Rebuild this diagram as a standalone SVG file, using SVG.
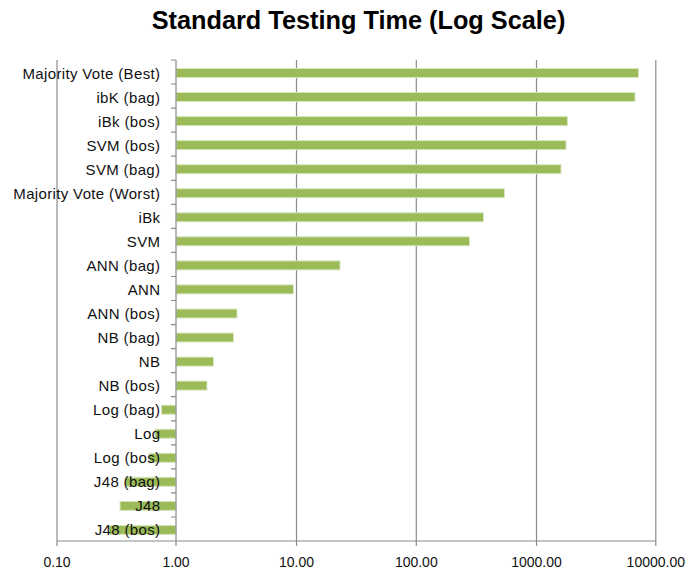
<svg xmlns="http://www.w3.org/2000/svg" width="689" height="571" viewBox="0 0 689 571">
  <style>
    .title { font-family: "Liberation Sans", Arial, sans-serif; font-weight: bold; font-size: 25.3px; fill: #000; text-anchor: middle; }
    .cat { font-family: "Liberation Sans", Arial, sans-serif; font-size: 15px; letter-spacing: 0.35px; fill: #111; text-anchor: end; }
    .val { font-family: "Liberation Sans", Arial, sans-serif; font-size: 14px; fill: #111; text-anchor: middle; }
    .grid { stroke: #8c8c8c; stroke-width: 1.2; fill: none; }
    .axis { stroke: #8c8c8c; stroke-width: 1.2; fill: none; }
    .bar { fill: #9bbb59; stroke: #d9e6c0; stroke-width: 1; }
  </style>
  <rect x="0" y="0" width="689" height="571" fill="#ffffff"/>

  <text class="title" x="358.5" y="28.5">Standard Testing Time (Log Scale)</text>

  <!-- vertical gridlines at each decade (0.1 .. 10000) -->
  <g id="gridlines">
    <line class="grid" x1="57" y1="60" x2="57" y2="541"/>
    <line class="grid" x1="296.5" y1="60" x2="296.5" y2="541"/>
    <line class="grid" x1="416.3" y1="60" x2="416.3" y2="541"/>
    <line class="grid" x1="536.5" y1="60" x2="536.5" y2="541"/>
    <line class="grid" x1="655.8" y1="60" x2="655.8" y2="541"/>
  </g>

  <!-- bars: value axis is logarithmic, crossing at 1.00 (x=176) -->
  <g id="bars">
    <g id="bar-majority-best"><rect class="bar" x="176" y="68.5" width="462.5" height="9"/></g>
    <g id="bar-ibk-bag"><rect class="bar" x="176" y="92.5" width="459" height="9"/></g>
    <g id="bar-ibk-bos"><rect class="bar" x="176" y="116.6" width="391.5" height="9"/></g>
    <g id="bar-svm-bos"><rect class="bar" x="176" y="140.6" width="390" height="9"/></g>
    <g id="bar-svm-bag"><rect class="bar" x="176" y="164.7" width="385" height="9"/></g>
    <g id="bar-majority-worst"><rect class="bar" x="176" y="188.7" width="328.5" height="9"/></g>
    <g id="bar-ibk"><rect class="bar" x="176" y="212.8" width="307.5" height="9"/></g>
    <g id="bar-svm"><rect class="bar" x="176" y="236.8" width="293.5" height="9"/></g>
    <g id="bar-ann-bag"><rect class="bar" x="176" y="260.9" width="164" height="9"/></g>
    <g id="bar-ann"><rect class="bar" x="176" y="284.9" width="117.5" height="9"/></g>
    <g id="bar-ann-bos"><rect class="bar" x="176" y="309" width="61" height="9"/></g>
    <g id="bar-nb-bag"><rect class="bar" x="176" y="333" width="57.5" height="9"/></g>
    <g id="bar-nb"><rect class="bar" x="176" y="357.1" width="37.5" height="9"/></g>
    <g id="bar-nb-bos"><rect class="bar" x="176" y="381.1" width="31" height="9"/></g>
    <g id="bar-log-bag"><rect class="bar" x="161.5" y="405.2" width="14.5" height="9"/></g>
    <g id="bar-log"><rect class="bar" x="155" y="429.2" width="21" height="9"/></g>
    <g id="bar-log-bos"><rect class="bar" x="149" y="453.3" width="27" height="9"/></g>
    <g id="bar-j48-bag"><rect class="bar" x="125.5" y="477.3" width="50.5" height="9"/></g>
    <g id="bar-j48"><rect class="bar" x="120" y="501.4" width="56" height="9"/></g>
    <g id="bar-j48-bos"><rect class="bar" x="109" y="525.4" width="67" height="9"/></g>
  </g>

  <!-- axes with tick marks -->
  <g id="axes">
    <line class="axis" x1="176" y1="60" x2="176" y2="546"/>
    <line class="axis" x1="57" y1="541" x2="656" y2="541"/>
    <path class="axis" d="M57 541V546M296.5 541V546M416.3 541V546M536.5 541V546M655.8 541V546"/>
    <path class="axis" d="M171 60H176M171 84H176M171 108.1H176M171 132.2H176M171 156.2H176M171 180.3H176M171 204.3H176M171 228.4H176M171 252.4H176M171 276.5H176M171 300.5H176M171 324.6H176M171 348.6H176M171 372.7H176M171 396.7H176M171 420.8H176M171 444.8H176M171 468.9H176M171 492.9H176M171 517H176"/>
  </g>

  <!-- category labels -->
  <g id="category-labels">
    <text class="cat" x="160.4" y="78.5">Majority Vote (Best)</text>
    <text class="cat" x="160.4" y="102.5">ibK (bag)</text>
    <text class="cat" x="160.4" y="126.6">iBk (bos)</text>
    <text class="cat" x="160.4" y="150.6">SVM (bos)</text>
    <text class="cat" x="160.4" y="174.7">SVM (bag)</text>
    <text class="cat" x="160.4" y="198.7">Majority Vote (Worst)</text>
    <text class="cat" x="160.4" y="222.8">iBk</text>
    <text class="cat" x="160.4" y="246.8">SVM</text>
    <text class="cat" x="160.4" y="270.9">ANN (bag)</text>
    <text class="cat" x="160.4" y="294.9">ANN</text>
    <text class="cat" x="160.4" y="319">ANN (bos)</text>
    <text class="cat" x="160.4" y="343">NB (bag)</text>
    <text class="cat" x="160.4" y="367.1">NB</text>
    <text class="cat" x="160.4" y="391.1">NB (bos)</text>
    <text class="cat" x="160.4" y="415.2">Log (bag)</text>
    <text class="cat" x="160.4" y="439.2">Log</text>
    <text class="cat" x="160.4" y="463.3">Log (bos)</text>
    <text class="cat" x="160.4" y="487.3">J48 (bag)</text>
    <text class="cat" x="160.4" y="511.4">J48</text>
    <text class="cat" x="160.4" y="535.4">J48 (bos)</text>
  </g>

  <!-- value axis labels -->
  <g id="value-labels">
    <text class="val" x="57" y="567">0.10</text>
    <text class="val" x="176" y="567">1.00</text>
    <text class="val" x="296.5" y="567">10.00</text>
    <text class="val" x="416.3" y="567">100.00</text>
    <text class="val" x="536.5" y="567">1000.00</text>
    <text class="val" x="655.8" y="567">10000.00</text>
  </g>
</svg>
